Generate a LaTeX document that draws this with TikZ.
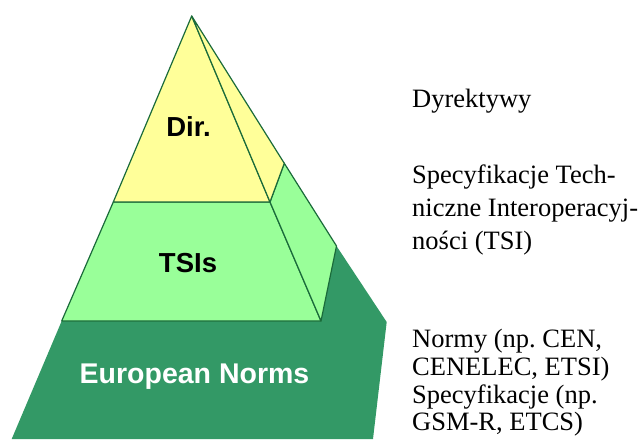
\documentclass[tikz,border=0pt]{standalone}
\usepackage{fontspec}
\setmainfont{Liberation Serif}
\newfontfamily\labfont{Liberation Sans}
\frenchspacing
\definecolor{yel}{HTML}{FFFF99}
\definecolor{lgreen}{HTML}{99FF99}
\definecolor{dgreen}{HTML}{339966}
\definecolor{edge}{HTML}{1A6B3A}
\begin{document}
\begin{tikzpicture}[x=1pt,y=-1pt,
  face/.style={draw=edge,line width=1.2pt,line join=round},
  lab/.style={font=\labfont\bfseries\fontsize{27.5}{30}\selectfont,anchor=base,inner sep=0pt},
  desc/.style={font=\fontsize{26.5}{33}\selectfont,anchor=base west,inner sep=0pt}]
\useasboundingbox (0,0) rectangle (638,442);
% corner coordinates
\coordinate (apex) at (191.7,16);
\coordinate (d1) at (113.3,202);
\coordinate (d2) at (270,202);
\coordinate (ds) at (284.3,163.3);
\coordinate (t1) at (61.7,321);
\coordinate (t2) at (321,321);
\coordinate (ts) at (336.5,246);
\coordinate (b1) at (386.7,322);
\coordinate (b2) at (373,439);
\coordinate (b3) at (11.7,439);
% base
\fill[dgreen] (t1) -- (t2) -- (ts) -- (b1) -- (b2) -- (b3) -- cycle;
% TSI layer
\filldraw[face,fill=lgreen] (d1) -- (d2) -- (t2) -- (t1) -- cycle;
\filldraw[face,fill=lgreen] (d2) -- (ds) -- (ts) -- (t2) -- cycle;
% Dir layer
\filldraw[face,fill=yel] (apex) -- (d1) -- (d2) -- cycle;
\filldraw[face,fill=yel] (apex) -- (ds) -- (d2) -- cycle;
% labels
\node[lab] (dir) at (188.5,136) {Dir.};
\node[lab] (tsis) at (188,272.5) {TSIs};
\node[lab,text=white,font=\labfont\bfseries\fontsize{28.5}{30}\selectfont] (en) at (194.5,383.5) {European Norms};
% descriptions
\node[desc] (dyr) at (412,107) {Dyrektywy};
\node[desc] (s1) at (412,183) {Specyfikacje Tech-};
\node[desc] (s2) at (412,216.5) {niczne Interoperacyj-};
\node[desc] (s3) at (412,249.5) {ności (TSI)};
\node[desc] (n1) at (412,347) {Normy (np. CEN,};
\node[desc] (n2) at (412,375) {CENELEC, ETSI)};
\node[desc] (n3) at (412,403) {Specyfikacje (np.};
\node[desc] (n4) at (412,430.5) {GSM-R, ETCS)};
\end{tikzpicture}
\end{document}
